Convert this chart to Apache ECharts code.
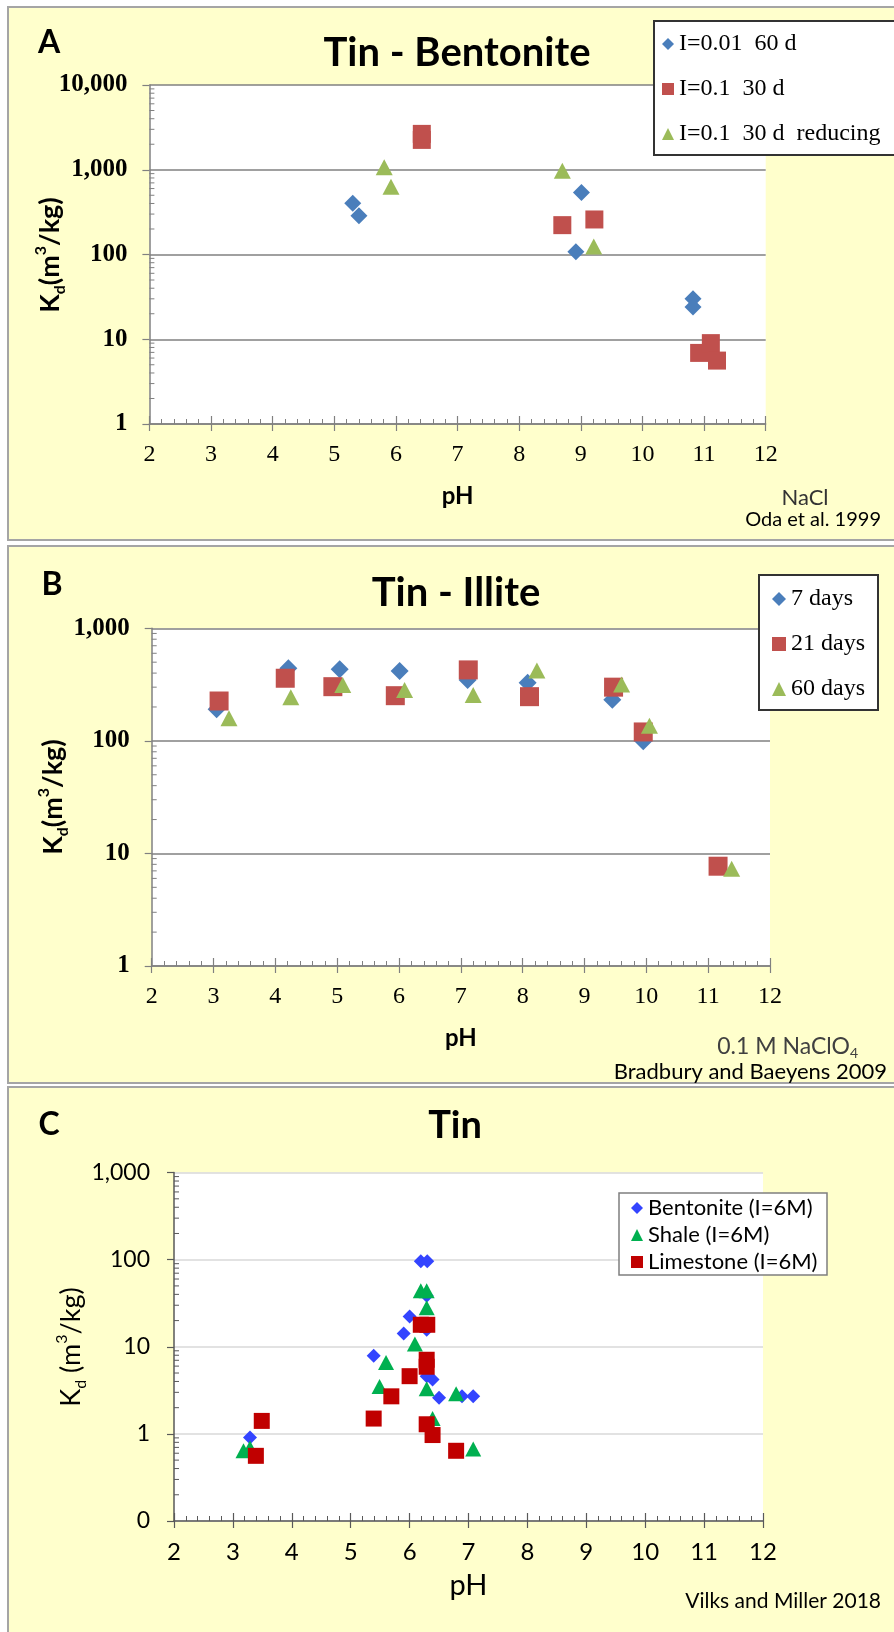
<!DOCTYPE html>
<html>
<head>
<meta charset="utf-8">
<script src="https://cdn.jsdelivr.net/npm/echarts@6/dist/echarts.min.js"></script>
<style>
  html, body { margin: 0; padding: 0; background: #ffffff; }
  #chart { width: 894px; height: 1632px; }
</style>
</head>
<body>
<div id="chart"></div>
<script>
// ---- Panel A: Tin - Bentonite (NaCl, Oda et al. 1999) ----
const namesA = ['I=0.01  60 d', 'I=0.1  30 d', 'I=0.1  30 d  reducing'];
const phA1 = [5.30, 5.40, 8.92, 9.01, 10.82, 10.82];
const kdA1 = [402, 287, 108, 540, 30, 24];
const phA2 = [6.42, 6.42, 8.70, 9.22, 10.92, 11.11, 11.21];
const kdA2 = [2250, 2650, 222, 259, 6.9, 9.0, 5.6];
const phA3 = [5.81, 5.92, 8.70, 9.21];
const kdA3 = [1070, 630, 975, 124];

// ---- Panel B: Tin - Illite (0.1 M NaClO4, Bradbury and Baeyens 2009) ----
const namesB = ['7 days', '21 days', '60 days'];
const phB1 = [3.05, 4.21, 5.04, 6.01, 7.11, 8.08, 9.45, 9.95];
const kdB1 = [191, 441, 432, 418, 348, 329, 232, 99];
const phB2 = [3.09, 4.16, 4.93, 5.94, 7.12, 8.11, 9.47, 9.95, 11.16];
const kdB2 = [226, 360, 303, 252, 427, 247, 300, 120, 7.7];
const phB3 = [3.25, 4.25, 5.09, 6.09, 7.20, 8.23, 9.60, 10.05, 11.38];
const kdB3 = [159, 244, 314, 283, 256, 421, 317, 136, 7.3];

// ---- Panel C: Tin (Vilks and Miller 2018) ----
const namesC = ['Bentonite (I=6M)', 'Shale (I=6M)', 'Limestone (I=6M)'];
const phC1 = [3.29, 5.39, 5.90, 6.00, 6.19, 6.30, 6.29, 6.29, 6.29, 6.39, 6.50, 6.89, 7.08];
const kdC1 = [0.91, 7.9, 14.2, 22.3, 96, 96, 38.6, 15.7, 4.6, 4.2, 2.6, 2.7, 2.7];
const phC2 = [3.18, 3.29, 5.49, 5.60, 6.09, 6.19, 6.29, 6.29, 6.29, 6.39, 6.79, 7.08];
const kdC2 = [0.64, 0.69, 3.5, 6.6, 10.8, 44, 44, 28, 3.3, 1.5, 2.9, 0.67];
const phC3 = [3.49, 3.39, 5.39, 5.69, 6.00, 6.19, 6.30, 6.29, 6.29, 6.29, 6.39, 6.79];
const kdC3 = [1.41, 0.56, 1.5, 2.7, 4.6, 17.9, 17.9, 7.1, 5.9, 1.29, 0.97, 0.64];

// ---- Axis ranges and tick labels ----
const phTicks = [2, 3, 4, 5, 6, 7, 8, 9, 10, 11, 12];
const kdRangeA = [1, 10000];
const kdRangeB = [1, 1000];
const kdRangeC = [0.1, 1000];

const pairs = (xs, ys) => xs.map((x, i) => [x, ys[i]]);
const kdLabel = v => Math.round(v).toLocaleString('en-US');

const GRAY = '#808080';
const SERIF = '"Liberation Serif", "DejaVu Serif", serif';
const SANS = 'Lato, "Open Sans", sans-serif';

function xAxesFor(grid, opt) {
  return [
    {
      gridIndex: grid, type: 'value', min: phTicks[0], max: phTicks[phTicks.length - 1], interval: 1,
      axisLine: { show: true, onZero: false, lineStyle: { color: opt.axis, width: 1.5 } },
      axisTick: { show: true, inside: false, length: 7, lineStyle: { color: opt.axis, width: 1.2 } },
      axisLabel: { margin: opt.labelMargin, color: '#000', fontFamily: opt.labelFamily, fontSize: opt.labelSize },
      splitLine: { show: false },
      name: 'pH', nameLocation: 'middle', nameGap: opt.nameGap,
      nameTextStyle: { color: '#000', fontFamily: SANS, fontSize: opt.nameSize, fontWeight: opt.nameWeight }
    },
    {
      gridIndex: grid, type: 'value', position: 'bottom', min: phTicks[0], max: phTicks[phTicks.length - 1], interval: 1,
      axisLine: { show: false }, axisLabel: { show: false }, splitLine: { show: false },
      axisTick: { show: true, inside: true, length: 8, lineStyle: { color: opt.axis, width: 1.2 } },
      minorTick: { show: true, splitNumber: 5, length: 5, lineStyle: { color: opt.axis, width: 1 } }
    }
  ];
}

function yAxisFor(grid, range, opt) {
  return {
    gridIndex: grid, type: 'log', logBase: 10, min: range[0], max: range[1],
    axisLine: { show: true, onZero: false, lineStyle: { color: opt.axis, width: 1.5 } },
    axisTick: { show: true, inside: false, length: 7, lineStyle: { color: opt.axis, width: 1.2 } },
    axisLabel: { margin: opt.labelMargin, color: '#000', fontFamily: opt.labelFamily, fontSize: opt.labelSize,
                 fontWeight: opt.labelWeight, formatter: kdLabel },
    splitLine: { show: true, lineStyle: { color: opt.grid, width: 1.5 } }
  };
}

// log-axis minor ticks at 2..9 of each decade, drawn inward from the y axis line
function minorTicks(xi, yi, range, color) {
  const vals = [];
  for (let d = range[0]; d < range[1] * 0.999; d *= 10) {
    for (let m = 2; m <= 9; m++) vals.push([phTicks[0], +(m * d).toPrecision(6)]);
  }
  return {
    type: 'custom', name: 'minor-' + yi, xAxisIndex: xi, yAxisIndex: yi, data: vals, silent: true, z: 3,
    renderItem: (params, api) => {
      const c = api.coord([api.value(0), api.value(1)]);
      return { type: 'line', shape: { x1: c[0], y1: c[1], x2: c[0] + 5, y2: c[1] },
               style: { stroke: color, lineWidth: 1 } };
    }
  };
}

function scatter(name, xi, yi, xs, ys, symbol, size, color) {
  return {
    type: 'scatter', name, xAxisIndex: xi, yAxisIndex: yi, data: pairs(xs, ys),
    symbol, symbolSize: size, itemStyle: { color, opacity: 1 },
    emphasis: { disabled: true }, z: 4
  };
}

const optAB = { axis: GRAY, grid: GRAY, labelFamily: SERIF, labelSize: 24, labelMargin: 19,
                nameSize: 24, nameWeight: 'bold' };

const BLUE = '#4A7EBB', RED = '#C0504D', GREEN = '#9BBB59';
const BLUE_C = '#3344FF', GREEN_C = '#00B050', RED_C = '#C00000';

const legendText = (family, size) => ({ fontFamily: family, fontSize: size, color: '#000', lineHeight: size });

// legend frame, drawn beneath the legend entries
const frame = (x, y, w, h, stroke, lw) => ({
  type: 'rect', z: 5, silent: true, shape: { x, y, width: w, height: h },
  style: { fill: '#ffffff', stroke, lineWidth: lw }
});
const note = (x, y, text, font, align, fill) => ({
  type: 'text', z: 50, x, y,
  style: { text, fill: fill || '#000', font, textAlign: align || 'center', textVerticalAlign: 'middle' }
});
// vertical Kd (m3/kg) caption with subscript d and superscript 3
const kdCaption = (x, y, text, size, weight) => ({
  type: 'text', z: 50, x, y, rotation: Math.PI / 2,
  style: {
    text, textAlign: 'center', textVerticalAlign: 'middle',
    rich: {
      b: { fill: '#000', fontFamily: SANS, fontSize: size, fontWeight: weight, lineHeight: size + 8 },
      s: { fill: '#000', fontFamily: SANS, fontSize: Math.round(size * 0.6), fontWeight: weight, verticalAlign: 'bottom', lineHeight: 14 },
      p: { fill: '#000', fontFamily: SANS, fontSize: Math.round(size * 0.6), fontWeight: weight, verticalAlign: 'top', lineHeight: 14 }
    }
  }
});

const option = {
  backgroundColor: 'transparent',
  animation: false,
  grid: [
    { left: 149.4, top: 85, width: 616.3, height: 339, show: true, backgroundColor: '#ffffff', borderWidth: 0 },
    { left: 151.7, top: 628.3, width: 618.3, height: 337.7, show: true, backgroundColor: '#ffffff', borderWidth: 0 },
    { left: 174, top: 1172.6, width: 589, height: 348.4, show: true, backgroundColor: '#ffffff', borderWidth: 0 }
  ],
  xAxis: [
    ...xAxesFor(0, Object.assign({}, optAB, { nameGap: 60 })),
    ...xAxesFor(1, Object.assign({}, optAB, { nameGap: 60 })),
    ...xAxesFor(2, { axis: '#595959', labelFamily: SANS, labelSize: 24, labelMargin: 19,
                     nameSize: 29, nameWeight: 'normal', nameGap: 50 })
  ],
  yAxis: [
    yAxisFor(0, kdRangeA, Object.assign({}, optAB, { labelSize: 25, labelWeight: 'bold', labelMargin: 22 })),
    yAxisFor(1, kdRangeB, Object.assign({}, optAB, { labelSize: 25, labelWeight: 'bold', labelMargin: 22 })),
    yAxisFor(2, kdRangeC, { axis: '#595959', grid: '#D9D9D9', labelFamily: SANS, labelSize: 23, labelWeight: 'normal',
                            labelMargin: 24 })
  ],
  legend: [
    { data: namesA, orient: 'vertical', left: 654, top: 21, itemWidth: 12, itemHeight: 12, itemGap: 21,
      padding: [11, 0, 9, 8], z: 10, textStyle: legendText(SERIF, 24), selectedMode: false },
    { data: namesB, orient: 'vertical', left: 759, top: 575, itemWidth: 14, itemHeight: 14, itemGap: 21,
      padding: [12, 0, 10, 13], z: 10, textStyle: legendText(SERIF, 24), selectedMode: false },
    { data: namesC, orient: 'vertical', left: 619, top: 1193, itemWidth: 12, itemHeight: 12, itemGap: 5,
      padding: [4, 0, 4, 12], z: 10, textStyle: legendText(SANS, 22), selectedMode: false }
  ],
  series: [
    minorTicks(0, 0, kdRangeA, GRAY),
    minorTicks(2, 1, kdRangeB, GRAY),
    minorTicks(4, 2, kdRangeC, '#595959'),
    scatter(namesA[0], 0, 0, phA1, kdA1, 'diamond', 17, BLUE),
    scatter(namesA[1], 0, 0, phA2, kdA2, 'rect', 18, RED),
    scatter(namesA[2], 0, 0, phA3, kdA3, 'triangle', [17, 16], GREEN),
    scatter(namesB[0], 2, 1, phB1, kdB1, 'diamond', 18, BLUE),
    scatter(namesB[1], 2, 1, phB2, kdB2, 'rect', 19, RED),
    scatter(namesB[2], 2, 1, phB3, kdB3, 'triangle', [17, 16], GREEN),
    scatter(namesC[0], 4, 2, phC1, kdC1, 'diamond', 14, BLUE_C),
    scatter(namesC[1], 4, 2, phC2, kdC2, 'triangle', [16, 15], GREEN_C),
    scatter(namesC[2], 4, 2, phC3, kdC3, 'rect', 16, RED_C)
  ],
  graphic: {
    elements: [
      // panel frames
      { type: 'rect', z: -10, silent: true, shape: { x: 8, y: 7, width: 900, height: 533 },
        style: { fill: '#FFFFCC', stroke: '#A5A5A5', lineWidth: 2 } },
      { type: 'rect', z: -10, silent: true, shape: { x: 8, y: 546, width: 900, height: 537 },
        style: { fill: '#FFFFCC', stroke: '#A5A5A5', lineWidth: 2 } },
      { type: 'rect', z: -10, silent: true, shape: { x: 8, y: 1087, width: 900, height: 600 },
        style: { fill: '#FFFFCC', stroke: '#A5A5A5', lineWidth: 2 } },
      // legend frames
      frame(654, 21, 300, 134, '#333333', 2),
      frame(759, 575, 119, 135, '#333333', 2),
      frame(619, 1193, 208, 82, '#7F7F7F', 1.5),
      // y-axis captions
      kdCaption(50, 255, '{b|K}{s|d}{b|(m}{p|3}{b|/kg)}', 27, 'bold'),
      kdCaption(53, 797, '{b|K}{s|d}{b|(m}{p|3}{b|/kg)}', 27, 'bold'),
      kdCaption(71, 1347, '{b|K}{s|d}{b| (m}{p|3}{b|/kg)}', 27, 'normal'),
      // panel letters
      note(49, 43, 'A', 'bold 32px ' + SANS),
      note(52, 585, 'B', 'bold 32px ' + SANS),
      note(49, 1125, 'C', 'bold 32px ' + SANS),
      // titles
      note(457, 53, 'Tin - Bentonite', 'bold 40px ' + SANS),
      note(456, 593, 'Tin - Illite', 'bold 40px ' + SANS),
      note(455, 1126, 'Tin', 'bold 38px ' + SANS),
      // notes
      note(805, 498, 'NaCl', '22px ' + SANS, 'center', '#333333'),
      note(881, 520, 'Oda et al. 1999', '20px ' + SANS, 'right'),
      { type: 'text', z: 50, x: 858, y: 1047, style: { text: '{a|0.1 M NaClO}{s|4}', textAlign: 'right', textVerticalAlign: 'middle',
          rich: { a: { fill: '#404040', fontFamily: SANS, fontSize: 23, lineHeight: 26 },
                  s: { fill: '#404040', fontFamily: SANS, fontSize: 14, verticalAlign: 'bottom', lineHeight: 14 } } } },
      note(887, 1072, 'Bradbury and Baeyens 2009', '22px ' + SANS, 'right'),
      note(881, 1601, 'Vilks and Miller 2018', '21px ' + SANS, 'right')
    ]
  }
};

const chart = echarts.init(document.getElementById('chart'), null, { renderer: 'canvas' });
chart.setOption(option);
</script>
</body>
</html>
